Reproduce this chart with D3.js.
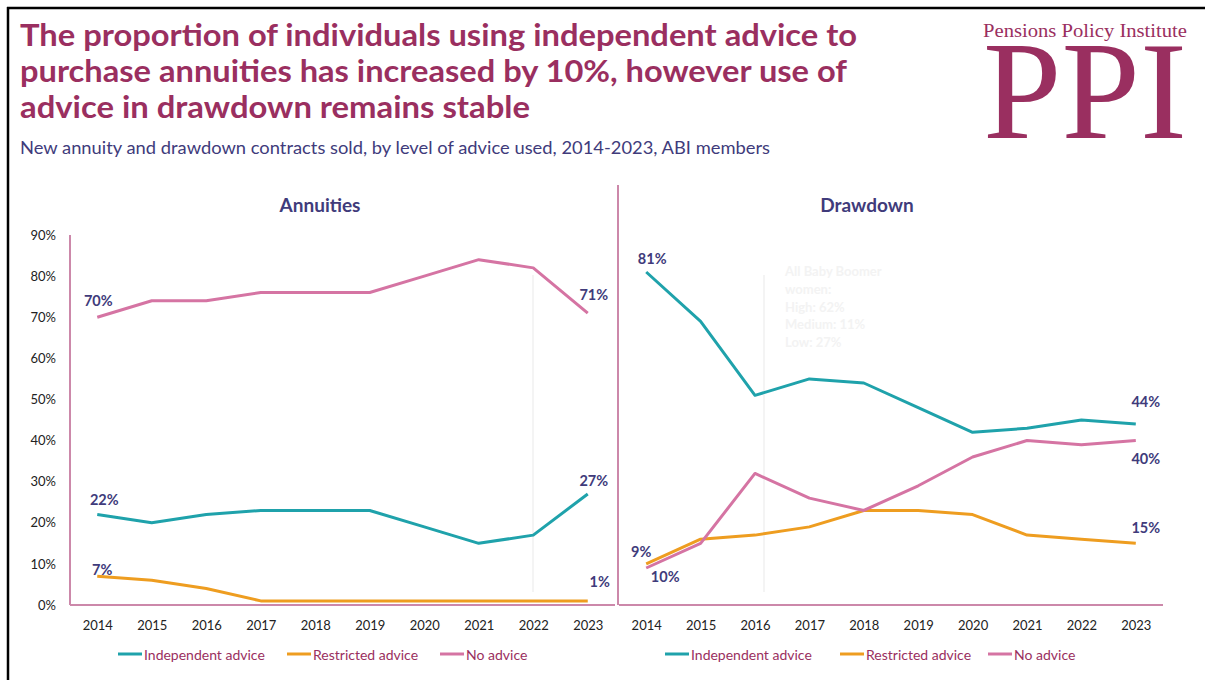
<!DOCTYPE html>
<html>
<head>
<meta charset="utf-8">
<script src="https://cdn.jsdelivr.net/npm/d3@7"></script>
<style>
  html, body { margin: 0; padding: 0; background: #fff; }
  svg { display: block; }
  text { font-family: Lato, "Open Sans", "Noto Sans", sans-serif; }
</style>
</head>
<body>
<svg id="chart" width="1205" height="680"></svg>
<script>
// ---- data -------------------------------------------------------------
const years = ["2014","2015","2016","2017","2018","2019","2020","2021","2022","2023"];
const yTicks = [0, 10, 20, 30, 40, 50, 60, 70, 80, 90];
const seriesNames = ["Independent advice", "Restricted advice", "No advice"];

// Annuities (% of new contracts)
const annIndependent = [22, 20, 22, 23, 23, 23, 19, 15, 17, 27];
const annRestricted  = [7, 6, 4, 1, 1, 1, 1, 1, 1, 1];
const annNoAdvice    = [70, 74, 74, 76, 76, 76, 80, 84, 82, 71];

// Drawdown (% of new contracts)
const ddIndependent = [81, 69, 51, 55, 54, 48, 42, 43, 45, 44];
const ddRestricted  = [10, 16, 17, 19, 23, 23, 22, 17, 16, 15];
const ddNoAdvice    = [9, 15, 32, 26, 23, 29, 36, 40, 39, 40];

const noteLines = ["All Baby Boomer", "women:", "High: 62%", "Medium: 11%", "Low: 27%"];

// ---- styling ----------------------------------------------------------
const colors = { "Independent advice": "#1fa2ab", "Restricted advice": "#ee9d20", "No advice": "#d574a3" };
const maroon = "#9a2f60";
const navy = "#403b7b";
const axisPink = "#cc88aa";

const svg = d3.select("#chart");

// outer frame (top and left rules)
svg.append("line").attr("x1", 7).attr("x2", 1205).attr("y1", 8).attr("y2", 8)
  .attr("stroke", "#000").attr("stroke-width", 2.5);
svg.append("line").attr("x1", 8).attr("x2", 8).attr("y1", 7).attr("y2", 680)
  .attr("stroke", "#000").attr("stroke-width", 2.5);

// ---- headline ---------------------------------------------------------
const titleLines = [
  { t: "The proportion of individuals using independent advice to", y: 46, w: 837 },
  { t: "purchase annuities has increased by 10%, however use of", y: 82, w: 827 },
  { t: "advice in drawdown remains stable", y: 118, w: 510 }
];
svg.selectAll("text.title").data(titleLines).join("text")
  .attr("class", "title")
  .attr("x", 20).attr("y", d => d.y)
  .attr("font-size", 30).attr("font-weight", 700).attr("fill", maroon)
  .attr("textLength", d => d.w).attr("lengthAdjust", "spacingAndGlyphs")
  .text(d => d.t);

svg.append("text")
  .attr("x", 20).attr("y", 154)
  .attr("font-size", 17).attr("fill", navy)
  .attr("textLength", 750).attr("lengthAdjust", "spacingAndGlyphs")
  .text("New annuity and drawdown contracts sold, by level of advice used, 2014-2023, ABI members");

// ---- logo -------------------------------------------------------------
svg.append("text")
  .attr("x", 983).attr("y", 37)
  .style("font-family", "'Liberation Serif', 'DejaVu Serif', serif")
  .attr("font-size", 19).attr("fill", maroon)
  .attr("textLength", 204).attr("lengthAdjust", "spacingAndGlyphs")
  .text("Pensions Policy Institute");
svg.append("text")
  .attr("x", 983).attr("y", 138)
  .style("font-family", "'Liberation Serif', 'DejaVu Serif', serif")
  .attr("font-size", 140).attr("fill", maroon)
  .attr("textLength", 204).attr("lengthAdjust", "spacingAndGlyphs")
  .text("PPI");

// ---- shared vertical scale -------------------------------------------
const y = d3.scaleLinear().domain([0, 90]).range([605, 235]);

function panel(opts) {
  const g = svg.append("g");
  const x = d3.scalePoint().domain(years).range([opts.x0, opts.x1]).padding(0.5);

  // panel title
  g.append("text")
    .attr("x", opts.titleX).attr("y", 212)
    .attr("text-anchor", "middle")
    .attr("font-size", 19).attr("font-weight", 700).attr("fill", navy)
    .text(opts.title);

  // faint guide
  g.append("line")
    .attr("x1", opts.guideX).attr("x2", opts.guideX).attr("y1", 275).attr("y2", 592)
    .attr("stroke", "#f1f1f1").attr("stroke-width", 1.5);

  // y axis
  const yAxis = g.append("g")
    .attr("transform", `translate(${opts.yAxisX},0)`)
    .call(d3.axisLeft(y).tickValues(yTicks).tickSize(0).tickPadding(14)
      .tickFormat(d => opts.showYLabels ? d + "%" : ""));
  yAxis.select(".domain").remove();
  yAxis.selectAll("text").attr("font-size", 13).attr("fill", "#222")
    .style("font-family", "Lato, 'Open Sans', sans-serif");
  g.append("line")
    .attr("x1", opts.yAxisX).attr("x2", opts.yAxisX)
    .attr("y1", opts.yAxisTop).attr("y2", 605)
    .attr("stroke", axisPink).attr("stroke-width", 2);

  // x axis
  const xAxis = g.append("g")
    .attr("transform", "translate(0,605)")
    .call(d3.axisBottom(x).tickSize(0).tickPadding(16));
  xAxis.select(".domain").remove();
  xAxis.selectAll("text").attr("font-size", 13).attr("fill", "#222")
    .style("font-family", "Lato, 'Open Sans', sans-serif");
  g.append("line")
    .attr("x1", opts.x0).attr("x2", opts.x1).attr("y1", 605).attr("y2", 605)
    .attr("stroke", axisPink).attr("stroke-width", 2);

  // lines
  const line = d3.line().x((d, i) => x(years[i])).y(d => y(d));
  opts.series.forEach(s => {
    g.append("path")
      .datum(s.values)
      .attr("d", line)
      .attr("fill", "none")
      .attr("stroke", colors[s.name])
      .attr("stroke-width", 3)
      .attr("stroke-linejoin", "round");
  });

  // value labels
  opts.labels.forEach(l => {
    const s = opts.series.find(s => s.name === l.series);
    const v = s.values[l.i];
    g.append("text")
      .attr("x", x(years[l.i]) + l.dx)
      .attr("y", y(v) + l.dy)
      .attr("text-anchor", "middle")
      .attr("dominant-baseline", "central")
      .attr("font-size", 14.5).attr("font-weight", 700).attr("fill", navy)
      .text(Math.round(v) + "%");
  });

  // legend
  const lg = g.append("g").attr("transform", `translate(${opts.legendX},654)`);
  seriesNames.forEach((name, i) => {
    const ox = opts.legendOffsets[i];
    lg.append("line").attr("x1", ox).attr("x2", ox + 24).attr("y1", 0).attr("y2", 0)
      .attr("stroke", colors[name]).attr("stroke-width", 3);
    lg.append("text").attr("x", ox + 26).attr("y", 0)
      .attr("dominant-baseline", "central")
      .attr("font-size", 14).attr("fill", maroon)
      .text(name);
  });
  return g;
}

panel({
  title: "Annuities", titleX: 320,
  x0: 70, x1: 615, yAxisX: 70, yAxisTop: 235, showYLabels: true,
  guideX: 533,
  series: [
    { name: "Independent advice", values: annIndependent },
    { name: "Restricted advice", values: annRestricted },
    { name: "No advice", values: annNoAdvice }
  ],
  labels: [
    { series: "No advice", i: 0, dx: 1, dy: -17 },
    { series: "Independent advice", i: 0, dx: 7, dy: -15 },
    { series: "Restricted advice", i: 0, dx: 5, dy: -7 },
    { series: "No advice", i: 9, dx: 6, dy: -19 },
    { series: "Independent advice", i: 9, dx: 6, dy: -14 },
    { series: "Restricted advice", i: 9, dx: 12, dy: -19 }
  ],
  legendX: 118, legendOffsets: [0, 169, 322]
});

const right = panel({
  title: "Drawdown", titleX: 867,
  x0: 619, x1: 1163, yAxisX: 618, yAxisTop: 185, showYLabels: false,
  guideX: 764,
  series: [
    { name: "Independent advice", values: ddIndependent },
    { name: "Restricted advice", values: ddRestricted },
    { name: "No advice", values: ddNoAdvice }
  ],
  labels: [
    { series: "Independent advice", i: 0, dx: 6, dy: -14 },
    { series: "No advice", i: 0, dx: -5, dy: -17 },
    { series: "Restricted advice", i: 0, dx: 19, dy: 13 },
    { series: "Independent advice", i: 9, dx: 10, dy: -23 },
    { series: "No advice", i: 9, dx: 10, dy: 18 },
    { series: "Restricted advice", i: 9, dx: 10, dy: -16 }
  ],
  legendX: 665, legendOffsets: [0, 175, 323]
});

// faint note on the drawdown panel
right.append("g").selectAll("text").data(noteLines).join("text")
  .attr("x", 785).attr("y", (d, i) => 271 + i * 17.8)
  .attr("dominant-baseline", "central")
  .attr("font-size", 13).attr("font-weight", 700).attr("fill", "#f3f3f3")
  .text(d => d);
</script>
</body>
</html>
